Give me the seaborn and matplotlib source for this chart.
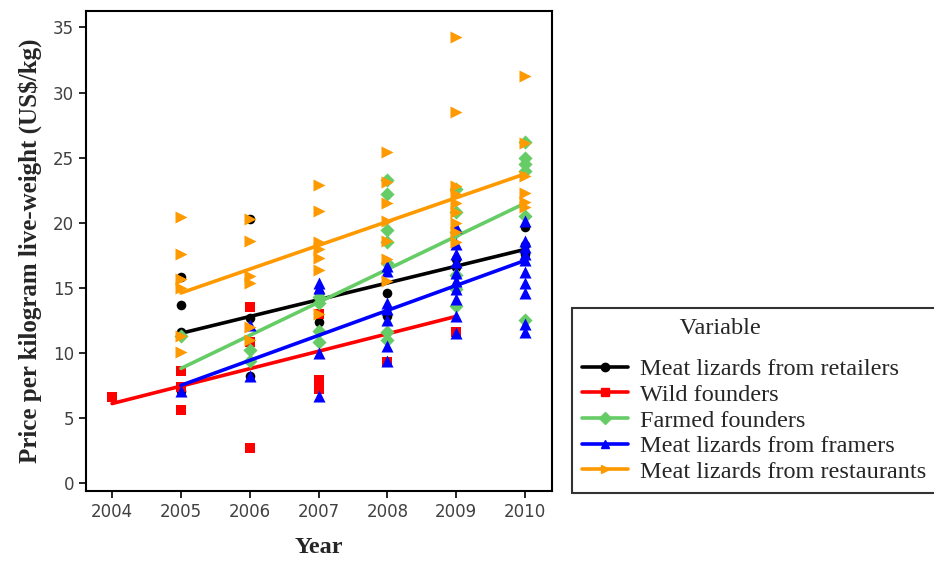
import pandas as pd
import matplotlib.pyplot as plt
import seaborn as sns
from matplotlib.lines import Line2D

# series names, colours and markers as in the original figure
series_names = [
    "Meat lizards from retailers",
    "Wild founders",
    "Farmed founders",
    "Meat lizards from framers",
    "Meat lizards from restaurants",
]
series_colors = ["#000000", "#ff0000", "#66cc66", "#0000ff", "#ff9900"]
series_markers = ["o", "s", "D", "^", ">"]
series_sizes = [48, 62, 52, 75, 75]

retailers = {
    2005: [15.8, 13.7, 11.6, 7.1],
    2006: [20.3, 12.7, 8.2],
    2007: [14.6, 14.0, 12.4],
    2008: [14.6, 13.0, 12.8],
    2009: [17.2, 16.6],
    2010: [19.7, 18.3, 17.6],
}
wild = {
    2004: [6.6],
    2005: [8.6, 7.4, 5.6],
    2006: [13.5, 10.8, 2.7],
    2007: [13.0, 7.9, 7.5, 7.2],
    2008: [9.3],
    2009: [11.6],
}
farmed = {
    2005: [11.3],
    2006: [10.2, 9.4],
    2007: [14.3, 13.8, 11.7, 10.8],
    2008: [23.3, 22.2, 19.4, 18.5, 16.9, 11.6, 11.0],
    2009: [22.6, 20.8, 19.3, 16.0, 14.9, 13.6],
    2010: [26.2, 25.0, 24.5, 24.0, 20.5, 12.5],
}
framers = {
    2005: [7.1],
    2006: [12.1, 8.2],
    2007: [15.4, 15.0, 10.0, 6.7],
    2008: [16.7, 16.3, 13.8, 13.4, 12.5, 10.5, 9.4],
    2009: [19.7, 18.4, 17.6, 17.0, 16.1, 15.5, 14.9, 14.1, 12.8, 11.5],
    2010: [20.1, 18.6, 18.1, 17.6, 17.1, 16.2, 15.4, 14.6, 12.2, 11.6],
}
restaurants = {
    2005: [20.4, 17.6, 15.7, 15.0, 11.3, 10.1],
    2006: [20.3, 18.6, 15.9, 15.4, 12.0, 11.0],
    2007: [22.9, 20.9, 18.5, 18.0, 17.3, 16.4, 13.0],
    2008: [25.4, 23.1, 21.5, 20.1, 18.6, 17.2, 15.5],
    2009: [34.3, 28.5, 22.8, 22.2, 21.5, 20.8, 20.0, 19.3, 18.5],
    2010: [31.3, 26.1, 23.6, 22.3, 21.6, 21.2],
}
series_data = [retailers, wild, farmed, framers, restaurants]

# fitted trend lines (start / end of each regression line)
trend_start_year = [2005, 2004, 2005, 2005, 2005]
trend_end_year = [2010, 2009, 2010, 2010, 2010]
trend_start_price = [11.5, 6.1, 8.8, 7.5, 14.6]
trend_end_price = [17.95, 12.8, 21.5, 17.1, 23.75]

year_ticks = [2004, 2005, 2006, 2007, 2008, 2009, 2010]
price_ticks = [0, 5, 10, 15, 20, 25, 30, 35]


def to_frame(name, data):
    rows = []
    for year, prices in data.items():
        for p in prices:
            rows.append({"Year": year, "Price": p, "Variable": name})
    return pd.DataFrame(rows)


def main():
    sns.set_theme(style="white")
    serif = ["Liberation Serif", "DejaVu Serif"]
    plt.rcParams["font.family"] = ["DejaVu Sans"]

    fig = plt.figure(figsize=(9.34, 5.61), dpi=100)
    ax = fig.add_axes([0.092, 0.125, 0.499, 0.855])

    for i, name in enumerate(series_names):
        df = to_frame(name, series_data[i])
        sns.scatterplot(
            data=df,
            x="Year",
            y="Price",
            color=series_colors[i],
            marker=series_markers[i],
            s=series_sizes[i],
            linewidth=0,
            ax=ax,
            zorder=2 + i,
        )
        trend = pd.DataFrame(
            {
                "Year": [trend_start_year[i], trend_end_year[i]],
                "Price": [trend_start_price[i], trend_end_price[i]],
            }
        )
        sns.lineplot(
            data=trend,
            x="Year",
            y="Price",
            color=series_colors[i],
            linewidth=2.6,
            ax=ax,
            zorder=2 + i,
        )

    ax.set_xlim(2003.62, 2010.39)
    ax.set_ylim(-0.61, 36.25)
    ax.set_xticks(year_ticks)
    ax.set_yticks(price_ticks)
    ax.tick_params(
        axis="both", direction="out", length=5, width=1.2, color="black",
        labelsize=12, labelcolor="#404040", bottom=True, left=True,
    )
    for spine in ax.spines.values():
        spine.set_color("black")
        spine.set_linewidth(1.5)

    ax.set_xlabel("Year", fontsize=17.5, fontweight="bold", family=serif, labelpad=12)
    ax.set_ylabel(
        "Price per kilogram live-weight (US$/kg)",
        fontsize=18, fontweight="bold", family=serif, labelpad=8,
    )

    handles = [
        Line2D([0], [0], color=c, marker=m, markersize=6, linewidth=2.6)
        for c, m in zip(series_colors, series_markers)
    ]
    leg = fig.legend(
        handles,
        series_names,
        title=" " * 16 + "Variable",
        loc="upper left",
        bbox_to_anchor=(572 / 934, 1 - 308 / 561),
        borderaxespad=0,
        frameon=True,
        fancybox=False,
        edgecolor="black",
        handlelength=1.9,
        handletextpad=0.5,
        labelspacing=0.15,
        prop={"family": serif, "size": 17.5},
        title_fontproperties={"family": serif, "size": 17.5},
    )
    leg._legend_box.align = "left"
    leg._legend_box.sep = 14
    leg.get_frame().set_linewidth(1.5)

    fig.savefig("out.png", dpi=100, facecolor="white")
    plt.close(fig)


if __name__ == "__main__":
    main()
